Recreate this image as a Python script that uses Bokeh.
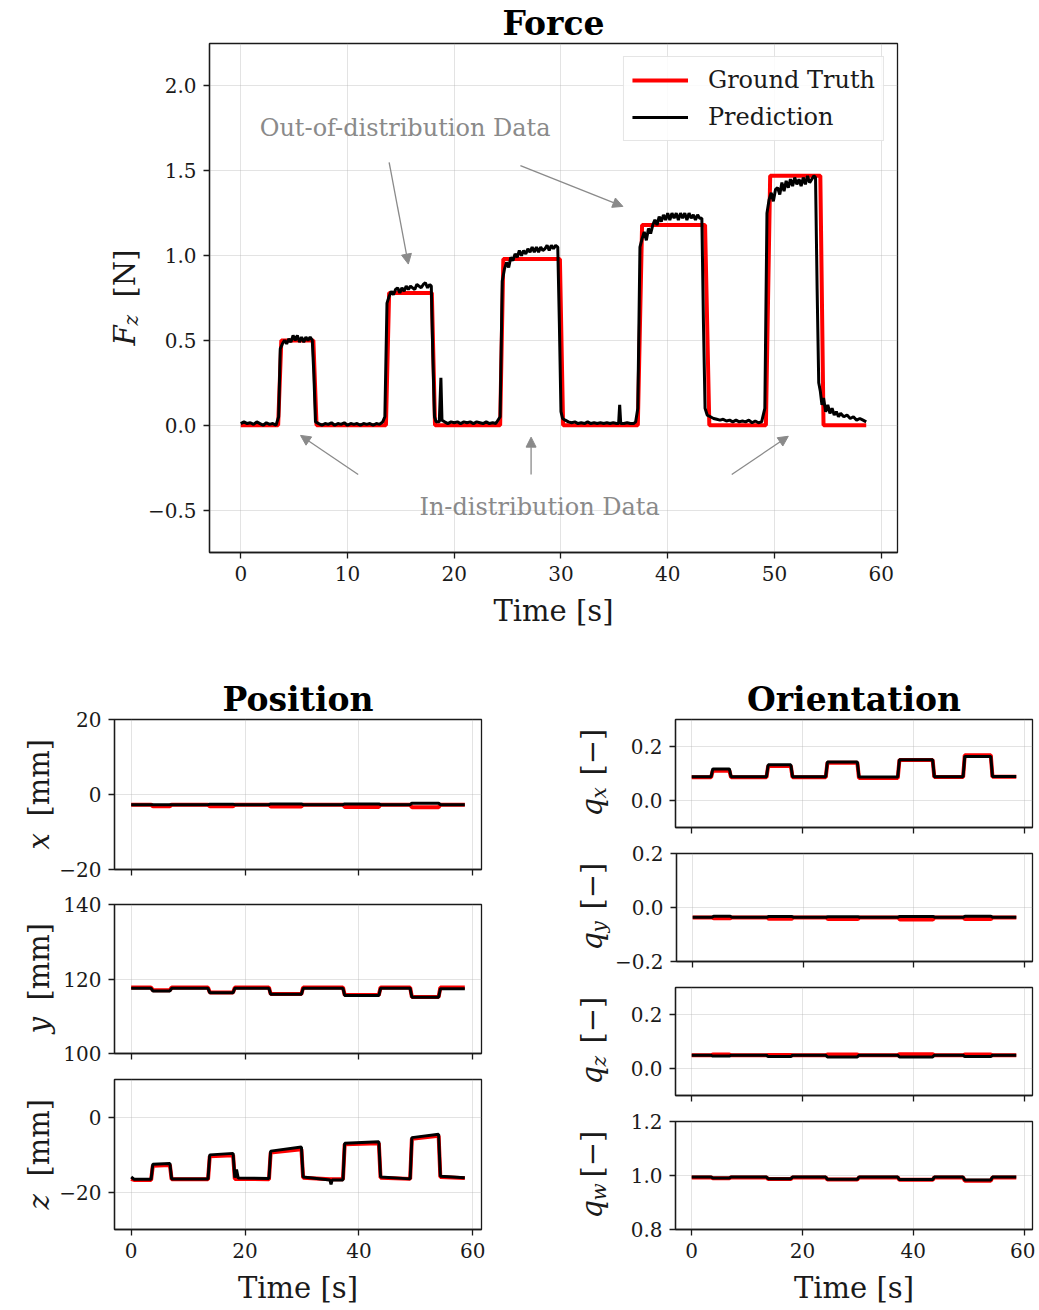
from math import pi
from bokeh.plotting import figure
from bokeh.layouts import column, row
from bokeh.models import (Range1d, FixedTicker, Label, Arrow, NormalHead, Legend,
                          CustomLabelingPolicy)
from bokeh.embed import file_html
from bokeh.resources import INLINE

SERIF = "DejaVu Serif"

# ---------------- data ----------------
# Force: ground truth (step profile) and prediction
force_gt_t = [0, 3.5, 3.8, 6.8, 7.1, 13.6, 13.9, 17.9, 18.2, 24.3, 24.6, 29.9, 30.2,
              37.2, 37.6, 43.5, 43.9, 49.2, 49.6, 54.3, 54.6, 58.6]
force_gt_f = [0, 0, 0.50, 0.50, 0, 0, 0.78, 0.78, 0, 0, 0.98, 0.98, 0,
              0, 1.18, 1.18, 0, 0, 1.47, 1.47, 0, 0]

force_pred_t = [0.0, 0.3, 0.6, 0.9, 1.2, 1.5, 1.8, 2.1, 2.4, 2.7, 3.0, 3.3,
                3.55, 3.7, 3.9,
                4.1, 4.3, 4.5, 4.7, 4.9, 5.1, 5.3, 5.5, 5.7, 5.9, 6.1, 6.3, 6.5, 6.7,
                6.85, 7.0,
                7.3, 7.6, 7.9, 8.2, 8.5, 8.8, 9.1, 9.4, 9.7, 10.0, 10.3, 10.6, 10.9,
                11.2, 11.5, 11.8, 12.1, 12.4, 12.7, 13.0, 13.3,
                13.5, 13.7, 13.9,
                14.1, 14.3, 14.5, 14.7, 14.9, 15.1, 15.3, 15.5, 15.7, 15.9, 16.1, 16.3,
                16.5, 16.7, 16.9, 17.1, 17.3, 17.5, 17.7, 17.85,
                18.0, 18.15, 18.3, 18.6, 18.75, 18.85,
                19.1, 19.4, 19.7, 20.0, 20.3, 20.6, 20.9, 21.2, 21.5, 21.8, 22.1, 22.4,
                22.7, 23.0, 23.3, 23.6, 23.9,
                24.3, 24.5, 24.7,
                24.9, 25.1, 25.3, 25.5, 25.7, 25.9, 26.1, 26.3, 26.5, 26.7, 26.9, 27.1,
                27.3, 27.5, 27.7, 27.9, 28.1, 28.3, 28.5, 28.7, 28.9, 29.1, 29.3, 29.5, 29.7,
                29.85, 30.0, 30.15,
                30.4, 30.7, 31.0, 31.3, 31.6, 31.9, 32.2, 32.5, 32.8, 33.1, 33.4, 33.7,
                34.0, 34.3, 34.6, 34.9, 35.2, 35.4, 35.5, 35.6, 35.9, 36.2, 36.5, 36.8, 37.0,
                37.2, 37.4, 37.6,
                37.8, 38.0, 38.2, 38.4, 38.6, 38.8, 39.0, 39.2, 39.4, 39.6, 39.8, 40.0,
                40.2, 40.4, 40.6, 40.8, 41.0, 41.2, 41.4, 41.6, 41.8, 42.0, 42.2, 42.4,
                42.6, 42.8, 43.0, 43.2,
                43.35, 43.5, 43.7,
                44.0, 44.3, 44.6, 44.9, 45.2, 45.5, 45.8, 46.1, 46.4, 46.7, 47.0, 47.3,
                47.6, 47.9, 48.2, 48.5, 48.8,
                49.1, 49.3, 49.5,
                49.7, 49.9, 50.1, 50.3, 50.5, 50.7, 50.9, 51.1, 51.3, 51.5, 51.7, 51.9,
                52.1, 52.3, 52.5, 52.7, 52.9, 53.1, 53.3, 53.5, 53.7, 53.85,
                54.0, 54.15,
                54.3, 54.45, 54.6, 54.8, 55.0, 55.2, 55.4, 55.6, 55.8, 56.0, 56.2, 56.5,
                56.8, 57.1, 57.4, 57.7, 58.0, 58.3, 58.6]
force_pred_f = [0.01, 0.02, 0.01, 0.015, 0.005, 0.02, 0.01, 0.0, 0.015, 0.005, 0.01, 0.0,
                0.05, 0.45, 0.48,
                0.50, 0.48, 0.51, 0.49, 0.53, 0.50, 0.53, 0.49, 0.52, 0.49, 0.52, 0.50, 0.52, 0.50,
                0.30, 0.02,
                0.01, 0.0, 0.01, 0.005, 0.015, 0.0, 0.01, 0.005, 0.015, 0.0, 0.01, 0.005, 0.01,
                0.0, 0.01, 0.005, 0.01, 0.0, 0.01, 0.005, 0.02,
                0.05, 0.72, 0.76,
                0.79, 0.77, 0.80, 0.81, 0.78, 0.81, 0.79, 0.82, 0.80, 0.82, 0.81, 0.80,
                0.83, 0.82, 0.81, 0.83, 0.84, 0.81, 0.83, 0.82,
                0.40, 0.05, 0.02, 0.02, 0.28, 0.03,
                0.02, 0.01, 0.02, 0.015, 0.02, 0.01, 0.02, 0.015, 0.02, 0.01, 0.02, 0.015,
                0.01, 0.02, 0.01, 0.015, 0.01,
                0.05, 0.85, 0.92,
                0.96, 0.93, 0.99, 0.97, 1.01, 0.99, 1.03, 1.00, 1.03, 1.01, 1.04, 1.02,
                1.05, 1.02, 1.05, 1.02, 1.05, 1.03, 1.04, 1.06, 1.03, 1.06, 1.04, 1.06, 1.05,
                0.60, 0.08, 0.04,
                0.03, 0.02, 0.015, 0.02, 0.01, 0.015, 0.01, 0.02, 0.01, 0.015, 0.01, 0.015,
                0.01, 0.015, 0.01, 0.015, 0.01, 0.01, 0.12, 0.01, 0.01, 0.015, 0.01, 0.01, 0.02,
                0.10, 1.05, 1.10,
                1.14, 1.09, 1.16, 1.13, 1.18, 1.21, 1.18, 1.23, 1.20, 1.24, 1.21, 1.25,
                1.21, 1.25, 1.22, 1.25, 1.21, 1.25, 1.22, 1.25, 1.21, 1.25, 1.22, 1.24,
                1.21, 1.24, 1.22, 1.22,
                0.60, 0.10, 0.06,
                0.05, 0.04, 0.035, 0.03, 0.035, 0.025, 0.03, 0.02, 0.03, 0.02, 0.025, 0.02,
                0.03, 0.015, 0.025, 0.015, 0.02,
                0.10, 1.25, 1.33,
                1.37, 1.32, 1.39, 1.40, 1.36, 1.43, 1.38, 1.44, 1.40, 1.45, 1.41, 1.46,
                1.42, 1.45, 1.41, 1.46, 1.42, 1.47, 1.43, 1.45, 1.47, 1.46,
                0.80, 0.25,
                0.20, 0.12, 0.16, 0.08, 0.12, 0.07, 0.10, 0.06, 0.08, 0.05, 0.07, 0.05,
                0.06, 0.04, 0.05, 0.03, 0.04, 0.03, 0.02]

# Shared step times for position / orientation channels
step_t = [0, 3.5, 3.8, 6.8, 7.1, 13.5, 13.8, 17.9, 18.2, 24.2, 24.5, 29.9, 30.2,
          37.2, 37.5, 43.5, 43.8, 49.0, 49.3, 54.0, 54.3, 58.6]

pos_x_gt = [-2.7, -2.7, -3.1, -3.1, -2.7, -2.7, -3.1, -3.1, -2.7, -2.7, -3.2, -3.2, -2.7,
            -2.7, -3.3, -3.3, -2.7, -2.7, -3.4, -3.4, -2.7, -2.7]
pos_x_pred = [-2.7, -2.7, -2.7, -2.7, -2.7, -2.7, -2.6, -2.6, -2.7, -2.7, -2.5, -2.5, -2.7,
              -2.7, -2.5, -2.5, -2.7, -2.7, -2.3, -2.3, -2.7, -2.7]

pos_y_gt = [117.7, 117.7, 117.0, 117.0, 117.7, 117.7, 116.4, 116.4, 117.7, 117.7, 116.0, 116.0, 117.7,
            117.7, 115.7, 115.7, 117.7, 117.7, 115.2, 115.2, 117.7, 117.7]
pos_y_pred = [117.5, 117.5, 116.8, 116.8, 117.5, 117.5, 116.3, 116.3, 117.5, 117.5, 115.9, 115.9, 117.5,
              117.5, 115.6, 115.6, 117.5, 117.5, 115.1, 115.1, 117.4, 117.4]

pos_z_t = [0, 0.5, 3.5, 3.8, 6.8, 7.1, 13.5, 13.8, 17.9, 18.2, 18.5, 18.8, 24.2, 24.5,
           29.9, 30.2, 34.9, 35.1, 35.3, 37.2, 37.5, 43.5, 43.8, 49.0, 49.3, 54.0, 54.3, 58.6]
pos_z_gt = [-16.5, -16.8, -16.8, -13.0, -12.8, -16.6, -16.6, -10.5, -10.2, -16.5, -16.5, -16.5,
            -16.6, -9.5, -8.6, -16.2, -16.6, -16.6, -16.6, -16.6, -7.3, -7.0, -16.2, -16.5,
            -5.8, -5.0, -16.0, -16.3]
pos_z_pred = [-16.0, -16.6, -16.6, -12.6, -12.4, -16.5, -16.5, -10.1, -9.7, -16.2, -14.0, -16.3,
              -16.4, -9.1, -8.0, -16.0, -16.8, -18.0, -16.8, -16.8, -7.0, -6.6, -16.0, -16.5,
              -5.5, -4.6, -15.8, -16.2]

ori_qx_gt = [0.086, 0.086, 0.110, 0.110, 0.086, 0.086, 0.128, 0.128, 0.086, 0.086, 0.140, 0.140, 0.083,
             0.083, 0.150, 0.150, 0.087, 0.087, 0.168, 0.168, 0.088, 0.088]
ori_qx_pred = [0.088, 0.088, 0.117, 0.117, 0.088, 0.088, 0.132, 0.132, 0.088, 0.088, 0.143, 0.143, 0.087,
               0.087, 0.151, 0.151, 0.088, 0.088, 0.163, 0.163, 0.089, 0.089]

ori_qy_gt = [-0.037, -0.037, -0.040, -0.040, -0.037, -0.037, -0.042, -0.042, -0.037, -0.037, -0.043, -0.043,
             -0.037, -0.037, -0.044, -0.044, -0.037, -0.037, -0.043, -0.043, -0.037, -0.037]
ori_qy_pred = [-0.036, -0.036, -0.032, -0.032, -0.036, -0.036, -0.033, -0.033, -0.036, -0.036, -0.034, -0.034,
               -0.036, -0.036, -0.033, -0.033, -0.036, -0.036, -0.032, -0.032, -0.036, -0.036]

ori_qz_gt = [0.049, 0.049, 0.052, 0.052, 0.049, 0.049, 0.050, 0.050, 0.049, 0.049, 0.052, 0.052,
             0.049, 0.049, 0.053, 0.053, 0.049, 0.049, 0.052, 0.052, 0.049, 0.049]
ori_qz_pred = [0.049, 0.049, 0.046, 0.046, 0.049, 0.049, 0.044, 0.044, 0.049, 0.049, 0.043, 0.043,
               0.049, 0.049, 0.043, 0.043, 0.049, 0.049, 0.044, 0.044, 0.049, 0.049]

ori_qw_gt = [0.993, 0.993, 0.990, 0.990, 0.993, 0.993, 0.987, 0.987, 0.993, 0.993, 0.985, 0.985,
             0.993, 0.993, 0.984, 0.984, 0.993, 0.993, 0.981, 0.981, 0.993, 0.993]
ori_qw_pred = [0.994, 0.994, 0.991, 0.991, 0.994, 0.994, 0.988, 0.988, 0.994, 0.994, 0.986, 0.986,
               0.994, 0.994, 0.985, 0.985, 0.994, 0.994, 0.983, 0.983, 0.994, 0.994]

time_ticks_force = [0, 10, 20, 30, 40, 50, 60]
time_ticks_small = [0, 20, 40, 60]
force_ticks = [-0.5, 0.0, 0.5, 1.0, 1.5, 2.0]
force_tick_labels = ["\u22120.5", "0.0", "0.5", "1.0", "1.5", "2.0"]

T_RANGE = (-2.93, 61.53)
INK = "#1a1a1a"
GRAY = "#8a8a8a"


def make_fig(width, height, yr, bl, br, bt, bb, title=None):
    p = figure(width=width, height=height, x_range=Range1d(*T_RANGE), y_range=Range1d(*yr),
               output_backend="svg", toolbar_location=None,
               min_border_left=bl, min_border_right=br, min_border_top=bt, min_border_bottom=bb)
    if title:
        p.title.text = title
        p.title.align = "center"
        p.title.text_font = SERIF
        p.title.text_font_size = "33px"
        p.title.text_font_style = "bold"
        p.title.text_color = "black"
        p.title.standoff = 2
    else:
        p.title.visible = False
    p.outline_line_color = INK
    p.outline_line_width = 1.3
    p.outline_line_alpha = 1.0
    p.background_fill_color = "white"
    p.border_fill_color = "white"
    for ax in (p.xaxis, p.yaxis):
        ax.axis_line_color = INK
        ax.axis_line_width = 1.3
        ax.major_tick_out = 6
        ax.major_tick_in = 0
        ax.minor_tick_out = 0
        ax.minor_tick_in = 0
        ax.major_tick_line_color = INK
        ax.major_tick_line_width = 1.3
        ax.major_label_text_font = SERIF
        ax.major_label_text_font_size = "20px"
        ax.major_label_text_color = INK
        ax.major_label_standoff = 7
        ax.axis_label_text_font = SERIF
        ax.axis_label_text_font_style = "normal"
        ax.axis_label_text_color = INK
    p.grid.grid_line_color = "#b0b0b0"
    p.grid.grid_line_alpha = 0.35
    p.grid.grid_line_width = 1
    return p


def set_ticks(p, xticks, yticks, ylabels, show_x_labels, xlabel=None):
    p.xaxis.ticker = FixedTicker(ticks=xticks)
    p.yaxis.ticker = FixedTicker(ticks=yticks)
    p.xgrid.ticker = FixedTicker(ticks=xticks)
    p.ygrid.ticker = FixedTicker(ticks=yticks)
    p.yaxis.major_label_overrides = {t: s for t, s in zip(yticks, ylabels)}
    p.xaxis.major_label_overrides = {t: str(t) for t in xticks}
    if not show_x_labels:
        # shared time axis: keep the ticks, draw no tick labels
        p.xaxis.major_label_policy = CustomLabelingPolicy(
            code="for (const i of indices) indices.unset(i); return indices")
        p.xaxis.major_label_text_font_size = "8px"
        p.xaxis.major_label_standoff = 0
    if xlabel:
        p.xaxis.axis_label = xlabel
        p.xaxis.axis_label_text_font_size = "29px"
        p.xaxis.axis_label_standoff = 10


def text_fig(width, height, bt, bb, frame_h):
    # plain canvas beside a plot; its frame matches the plot frame, data units are pixels
    f = figure(width=width, height=height, x_range=Range1d(0, width), y_range=Range1d(0, frame_h),
               output_backend="svg", toolbar_location=None, x_axis_location=None, y_axis_location=None,
               min_border_left=0, min_border_right=0, min_border_top=bt, min_border_bottom=bb)
    f.title.visible = False
    f.outline_line_color = None
    f.background_fill_color = "white"
    f.border_fill_color = "white"
    f.xgrid.visible = False
    f.ygrid.visible = False
    return f


def ylabel(f, fig_left, pieces):
    # pieces: (text, baseline x in page px, distance above frame bottom, size, style)
    for text, bx, dy, size, style in pieces:
        f.add_layout(Label(x=bx - fig_left, y=dy, text=text,
                           angle=pi / 2, text_align="left", text_baseline="alphabetic",
                           text_font=SERIF, text_font_size=size, text_font_style=style,
                           text_color=INK))


def draw_pair(p, t_gt, v_gt, t_pr, v_pr, w_gt, w_pr):
    r1 = p.line(t_gt, v_gt, line_color="red", line_width=w_gt)
    r2 = p.line(t_pr, v_pr, line_color="black", line_width=w_pr)
    return r1, r2


# ---------------- Force (page y 0..648) ----------------
lab_f = text_fig(144, 648, 43, 96, 509)
ylabel(lab_f, 0, [("F", 124, 207, "29px", "italic"),
                  ("z", 130, 227, "20px", "italic"),
                  ("[N]", 124, 255, "29px", "normal")])

pf = make_fig(881, 648, (-0.75, 2.25), bl=64, br=128, bt=43, bb=96, title="Force")
set_ticks(pf, time_ticks_force, force_ticks, force_tick_labels, True, "Time [s]")
r_gt, r_pr = draw_pair(pf, force_gt_t, force_gt_f, force_pred_t, force_pred_f, 4, 3)

pf.add_layout(Label(x=15.4, y=1.75, text="Out-of-distribution Data", text_align="center",
                    text_baseline="middle", text_font=SERIF, text_font_size="24px", text_color=GRAY))
pf.add_layout(Label(x=28.0, y=-0.48, text="In-distribution Data", text_align="center",
                    text_baseline="middle", text_font=SERIF, text_font_size="24px", text_color=GRAY))
arrows = [((13.9, 1.55), (15.7, 0.95)), ((26.2, 1.53), (35.8, 1.29)),
          ((11.0, -0.29), (5.6, -0.06)), ((27.2, -0.29), (27.2, -0.07)),
          ((46.0, -0.29), (51.3, -0.065))]
for (xs, ys), (xe, ye) in arrows:
    pf.add_layout(Arrow(end=NormalHead(size=10, fill_color=GRAY, line_color=GRAY),
                        x_start=xs, y_start=ys, x_end=xe, y_end=ye,
                        line_color=GRAY, line_width=1.3))

leg = Legend(items=[("Ground Truth", [r_gt]), ("Prediction", [r_pr])], location="top_right")
leg.label_text_font = SERIF
leg.label_text_font_size = "24px"
leg.label_text_color = INK
leg.glyph_width = 56
leg.glyph_height = 30
leg.label_height = 30
leg.label_standoff = 20
leg.padding = 8
leg.spacing = 7
leg.margin = 13
leg.border_line_color = "#cccccc"
leg.border_line_width = 1
leg.background_fill_alpha = 0.85
pf.add_layout(leg)

top = row(lab_f, pf)

# ---------------- Position (page x 0..545, y 648..1308) ----------------
LAB_W, PW = 56, 489


def pos_block(height, bt, bb, frame_h, yr, ticks, labels, t, gt, pr, letter, xlabel, title=None):
    lab = text_fig(LAB_W, height, bt, bb, frame_h)
    ylabel(lab, 0, [(letter, 38, 20, "29px", "italic"), ("[mm]", 38, 53, "29px", "normal")])
    p = make_fig(PW, height, yr, bl=58, br=64, bt=bt, bb=bb, title=title)
    set_ticks(p, time_ticks_small, ticks, labels, xlabel is not None, xlabel)
    draw_pair(p, t, gt, t, pr, 4, 3)
    return row(lab, p)


b_x = pos_block(241, 71, 20, 150, (-20, 20), [-20, 0, 20], ["\u221220", "0", "20"],
                step_t, pos_x_gt, pos_x_pred, "x", None, title="Position")
b_y = pos_block(180, 15, 16, 149, (100, 140), [100, 120, 140], ["100", "120", "140"],
                step_t, pos_y_gt, pos_y_pred, "y", None)
b_z = pos_block(239, 10, 79, 150, (-30, 10), [-20, 0], ["\u221220", "0"],
                pos_z_t, pos_z_gt, pos_z_pred, "z", "Time [s]")
left = column(b_x, b_y, b_z)

# ---------------- Orientation (page x 545..1035, y 648..1308) ----------------
QLAB_W, QW = 66, 424
Q_LEFT = 545


def ori_block(height, bt, bb, yr, ticks, labels, gt, pr, sub, xlabel, title=None):
    frame_h = 108
    lab = text_fig(QLAB_W, height, bt, bb, frame_h)
    ylabel(lab, Q_LEFT, [("q", 591, 11, "29px", "italic"),
                         (sub, 598, 29, "20px", "italic"),
                         ("[\u2212]", 591, 52, "29px", "normal")])
    p = make_fig(QW, height, yr, bl=64, br=3, bt=bt, bb=bb, title=title)
    set_ticks(p, time_ticks_small, ticks, labels, xlabel is not None, xlabel)
    draw_pair(p, step_t, gt, step_t, pr, 4, 3)
    return row(lab, p)


b_qx = ori_block(195, 71, 16, (-0.1, 0.3), [0.0, 0.2], ["0.0", "0.2"],
                 ori_qx_gt, ori_qx_pred, "x", None, title="Orientation")
b_qy = ori_block(134, 10, 16, (-0.2, 0.2), [-0.2, 0.0, 0.2], ["\u22120.2", "0.0", "0.2"],
                 ori_qy_gt, ori_qy_pred, "y", None)
b_qz = ori_block(134, 10, 16, (-0.1, 0.3), [0.0, 0.2], ["0.0", "0.2"],
                 ori_qz_gt, ori_qz_pred, "z", None)
b_qw = ori_block(197, 10, 79, (0.8, 1.2), [0.8, 1.0, 1.2], ["0.8", "1.0", "1.2"],
                 ori_qw_gt, ori_qw_pred, "w", "Time [s]")
right = column(b_qx, b_qy, b_qz, b_qw)

layout = column(top, row(left, right))

open("out.html", "w").write(file_html(layout, INLINE))
